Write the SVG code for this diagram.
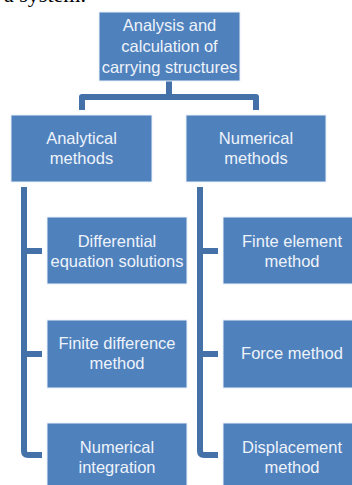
<svg xmlns="http://www.w3.org/2000/svg" width="352" height="485" viewBox="0 0 352 485">
<style>
.box{fill:#4f81bd;stroke:#eaf0f8;stroke-width:1}
.t{font-family:"Liberation Sans",Arial,sans-serif;font-size:16.5px;fill:#eef3fa;text-anchor:middle}
.c{fill:none;stroke:#4472a8;stroke-width:6;stroke-linejoin:round}
.cap{font-family:"Liberation Serif","Times New Roman",serif;font-size:22px;fill:#000}
</style>
<rect width="352" height="485" fill="#fff"/>
<text class="cap" x="4" y="2">a system.</text>
<g id="connectors">
<path class="c" d="M169 81 V97 M82 110 V97 H256 V110"/>
<path class="c" d="M24 187 V451 Q24 455 28 455 H42 M24 251 H42 M24 354 H42"/>
<path class="c" d="M200 187 V451 Q200 455 204 455 H218 M200 251 H218 M200 354 H218"/>
</g>
<g id="root">
<rect class="box" x="99" y="12" width="141" height="69"/>
<text class="t" x="169.5" y="31">Analysis and</text>
<text class="t" x="169.5" y="52">calculation of</text>
<text class="t" x="169.5" y="73">carrying structures</text>
</g>
<g id="analytical">
<rect class="box" x="11" y="115" width="141" height="67"/>
<text class="t" x="81.5" y="144">Analytical</text>
<text class="t" x="81.5" y="164">methods</text>
</g>
<g id="numerical">
<rect class="box" x="186" y="115" width="140" height="67"/>
<text class="t" x="256" y="144">Numerical</text>
<text class="t" x="256" y="164">methods</text>
</g>
<g id="differential">
<rect class="box" x="47" y="217" width="140" height="67"/>
<text class="t" x="117" y="247">Differential</text>
<text class="t" x="117" y="267">equation solutions</text>
</g>
<g id="finitediff">
<rect class="box" x="47" y="320" width="140" height="68"/>
<text class="t" x="117" y="349">Finite difference</text>
<text class="t" x="117" y="369">method</text>
</g>
<g id="integration">
<rect class="box" x="47" y="423" width="140" height="68"/>
<text class="t" x="117" y="453">Numerical</text>
<text class="t" x="117" y="473">integration</text>
</g>
<g id="fem">
<rect class="box" x="223" y="217" width="140" height="67"/>
<text class="t" x="292" y="247">Finte element</text>
<text class="t" x="292" y="267">method</text>
</g>
<g id="force">
<rect class="box" x="223" y="320" width="140" height="68"/>
<text class="t" x="292" y="359">Force method</text>
</g>
<g id="displacement">
<rect class="box" x="223" y="423" width="140" height="68"/>
<text class="t" x="292" y="453">Displacement</text>
<text class="t" x="292" y="473">method</text>
</g>
</svg>
